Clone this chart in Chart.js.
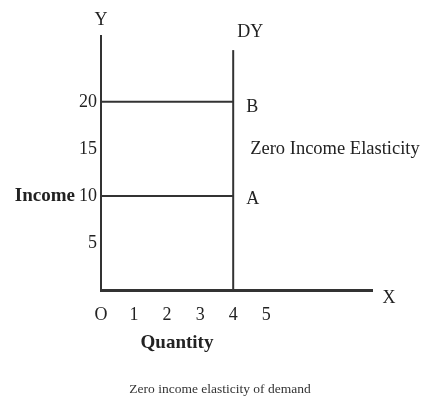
<!DOCTYPE html>
<html>
<head>
<meta charset="utf-8">
<script src="https://cdn.jsdelivr.net/npm/chart.js@4.4.1/dist/chart.umd.min.js"></script>
<style>
  html, body { margin: 0; padding: 0; background: #fff; }
</style>
</head>
<body>
<canvas id="graficaElasticidad" width="423" height="399"></canvas>
<script>
const quantityTicks = [0, 1, 2, 3, 4, 5];
const incomeTicks = [5, 10, 15, 20];
const incomeLevels = [10, 20];
const pointNames = ['A', 'B'];
const demandQuantity = 4;
const demandTop = 25.5;

const ink = '#333';
const serif = '"Liberation Serif", "Times New Roman", serif';

// horizontal income lines from the Y axis to DY, plus the vertical DY line
const datasets = incomeLevels.map((inc) => ({
  data: [{x: 0, y: inc}, {x: demandQuantity, y: inc}],
  borderColor: ink, borderWidth: 2, pointRadius: 0, showLine: true
}));
datasets.push({
  data: [{x: demandQuantity, y: 0}, {x: demandQuantity, y: demandTop}],
  borderColor: ink, borderWidth: 2, pointRadius: 0, showLine: true
});

const notas = {
  id: 'notas',
  afterDraw(chart) {
    const {ctx, chartArea, scales: {x, y}} = chart;
    const dx = x.getPixelForValue(demandQuantity);
    ctx.save();
    ctx.fillStyle = '#222';
    ctx.textBaseline = 'middle';
    ctx.font = '18px ' + serif;

    ctx.textAlign = 'center';
    ctx.fillText('Y', chartArea.left, chartArea.top - 16);
    ctx.fillText('X', chartArea.right + 17, chartArea.bottom + 8);

    ctx.textAlign = 'left';
    ctx.fillText('DY', dx + 4, y.getPixelForValue(demandTop) - 18);
    incomeLevels.forEach((inc, i) => {
      ctx.fillText(pointNames[i], dx + 13, y.getPixelForValue(inc) + 3 + i * 2);
    });

    ctx.font = '18.5px ' + serif;
    const mid = (y.getPixelForValue(incomeLevels[0]) + y.getPixelForValue(incomeLevels[1])) / 2;
    ctx.fillText('Zero Income Elasticity', dx + 17, mid);

    ctx.font = 'bold 19px ' + serif;
    ctx.textAlign = 'right';
    ctx.fillText('Income', chartArea.left - 26, y.getPixelForValue(incomeLevels[0]));
    ctx.textAlign = 'center';
    ctx.fillText('Quantity', chartArea.left + 76, chartArea.bottom + 53);

    // caption under the figure
    ctx.fillStyle = ink;
    ctx.font = '13.5px ' + serif;
    ctx.fillText('Zero income elasticity of demand', 220, chart.height - 10);
    ctx.restore();
  }
};

new Chart(document.getElementById('graficaElasticidad'), {
  type: 'scatter',
  data: { datasets },
  options: {
    animation: false,
    responsive: false,
    layout: { padding: { top: 36, right: 51, left: 0, bottom: 0 } },
    plugins: {
      legend: { display: false },
      tooltip: { enabled: false }
    },
    scales: {
      x: {
        type: 'linear', min: 0, max: 8.2,
        grid: { display: false, drawTicks: false },
        border: { color: ink, width: 3 },
        afterBuildTicks: (s) => { s.ticks = quantityTicks.map((v) => ({value: v})); },
        afterFit: (s) => { s.height = 109; },
        ticks: {
          color: '#222', padding: 14,
          font: { family: serif, size: 18 },
          callback: (v) => v === 0 ? 'O' : v
        }
      },
      y: {
        type: 'linear', min: 0, max: 27,
        grid: { display: false, drawTicks: false },
        border: { color: ink, width: 2 },
        afterBuildTicks: (s) => { s.ticks = incomeTicks.map((v) => ({value: v})); },
        afterFit: (s) => { s.width = 101; },
        ticks: {
          color: '#222', padding: 4,
          font: { family: serif, size: 18 }
        }
      }
    }
  },
  plugins: [notas]
});
</script>
</body>
</html>
